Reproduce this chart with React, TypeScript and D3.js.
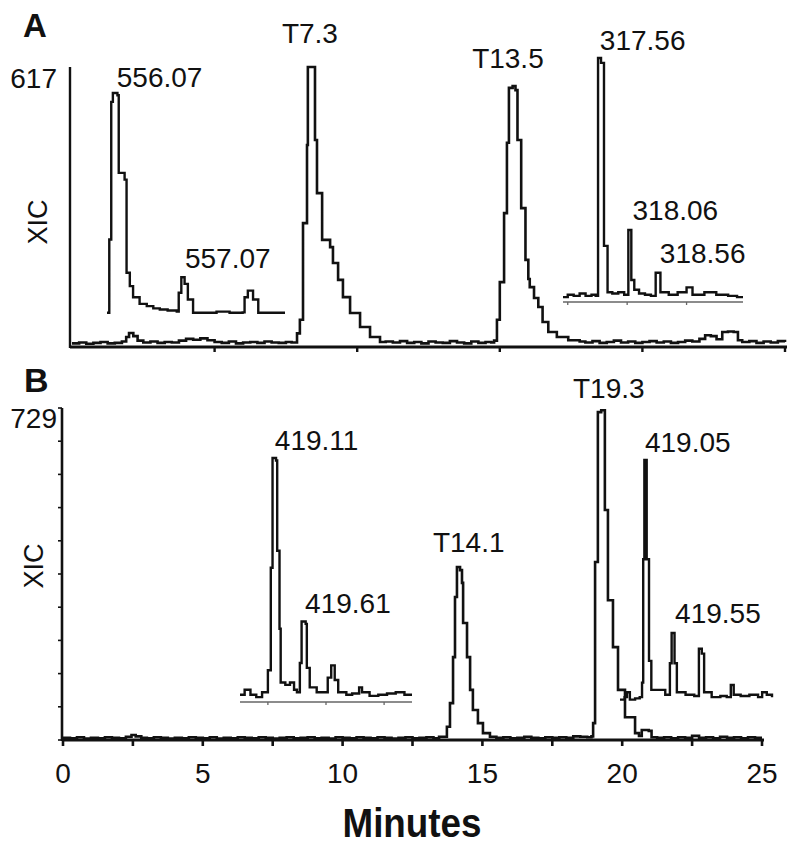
import React, { useEffect } from "react";
import * as d3 from "d3";

const W = 800;
const H = 845;

// ---------- Panel A : main XIC trace (minutes, counts) ----------
const traceA: [number, number][] = [
  [0.0, 8], [0.25, 10], [0.5, 7], [0.75, 9], [1.0, 11], [1.25, 8], [1.5, 9], [1.75, 12],
  [1.9, 22], [2.0, 31], [2.15, 24], [2.3, 14], [2.5, 10], [2.75, 12], [3.0, 9], [3.25, 11],
  [3.5, 10], [3.75, 14], [4.0, 18], [4.25, 16], [4.5, 19], [4.75, 15], [5.0, 11], [5.25, 9],
  [5.5, 12], [5.75, 8], [6.0, 10], [6.25, 11], [6.5, 9], [6.75, 12], [7.0, 10], [7.25, 9],
  [7.5, 11], [7.7, 10], [7.89, 30], [7.99, 60], [8.1, 273], [8.24, 445], [8.27, 617],
  [8.52, 456], [8.59, 339], [8.77, 236], [9.05, 220], [9.15, 185], [9.33, 148], [9.5, 110],
  [9.75, 75], [10.1, 44], [10.45, 22], [10.8, 11], [11.0, 12], [11.25, 10], [11.5, 13],
  [11.75, 9], [12.0, 11], [12.25, 8], [12.5, 12], [12.75, 10], [13.0, 9], [13.25, 13],
  [13.5, 10], [13.75, 8], [14.0, 12], [14.25, 9], [14.5, 11], [14.7, 10], [14.8, 14],
  [14.9, 60], [15.0, 143], [15.15, 295], [15.25, 450], [15.32, 571], [15.45, 575],
  [15.55, 566], [15.62, 456], [15.75, 306], [15.9, 192], [16.0, 150], [16.05, 132],
  [16.2, 108], [16.35, 88], [16.5, 55], [16.7, 33], [17.0, 22], [17.4, 15], [17.8, 12],
  [18.0, 10], [18.25, 13], [18.5, 9], [18.75, 11], [19.0, 14], [19.25, 10], [19.5, 12],
  [19.75, 9], [20.0, 11], [20.25, 13], [20.5, 10], [20.75, 12], [21.0, 9], [21.25, 11],
  [21.5, 14], [21.75, 12], [22.0, 18], [22.2, 26], [22.4, 24], [22.6, 17], [22.8, 33],
  [23.0, 34], [23.2, 33], [23.35, 15], [23.5, 11], [23.75, 13], [24.0, 9], [24.25, 12],
  [24.5, 10], [24.75, 13], [25.0, 11],
];

// ---------- Panel B : main XIC trace (minutes, counts) ----------
const traceB: [number, number][] = [
  [0.0, 5], [0.25, 4], [0.5, 6], [0.75, 3], [1.0, 5], [1.25, 4], [1.5, 6], [1.75, 5],
  [2.0, 4], [2.25, 7], [2.45, 11], [2.6, 8], [2.8, 5], [3.0, 4], [3.25, 6], [3.5, 5],
  [3.75, 3], [4.0, 5], [4.25, 4], [4.5, 6], [4.75, 5], [5.0, 4], [5.25, 6], [5.5, 3],
  [5.75, 5], [6.0, 4], [6.25, 6], [6.5, 5], [6.75, 4], [7.0, 6], [7.25, 5], [7.5, 3],
  [7.75, 5], [8.0, 6], [8.25, 4], [8.5, 5], [8.75, 6], [9.0, 4], [9.25, 5], [9.5, 3],
  [9.75, 6], [10.0, 5], [10.25, 4], [10.5, 6], [10.75, 5], [11.0, 4], [11.25, 6], [11.5, 5],
  [11.75, 3], [12.0, 5], [12.25, 6], [12.5, 4], [12.75, 5], [13.0, 6], [13.25, 4],
  [13.45, 7], [13.59, 7], [13.73, 29], [13.84, 81], [13.95, 182], [14.02, 314], [14.09, 380],
  [14.2, 373], [14.27, 345], [14.31, 257], [14.45, 182], [14.56, 110], [14.66, 66],
  [14.84, 37], [15.02, 15], [15.27, 7], [15.5, 5], [15.75, 6], [16.0, 4], [16.25, 5],
  [16.5, 7], [16.75, 5], [17.0, 4], [17.25, 6], [17.5, 5], [17.75, 6], [18.0, 5], [18.25, 8],
  [18.5, 7], [18.75, 6], [18.9, 8], [18.96, 37], [19.03, 391], [19.13, 720], [19.25, 724],
  [19.38, 505], [19.49, 307], [19.67, 204], [19.85, 110], [20.1, 50], [20.46, 15], [20.6, 9],
  [20.7, 22], [20.95, 20], [21.05, 6], [21.25, 5], [21.5, 6], [21.75, 4], [22.0, 6],
  [22.25, 5], [22.5, 9], [22.75, 5], [23.0, 6], [23.25, 4], [23.5, 7], [23.75, 5], [24.0, 6],
  [24.25, 4], [24.5, 6], [24.75, 5], [25.0, 5],
];

// ---------- Insets : mass spectra (m/z, relative intensity %) ----------
const insetA1: [number, number][] = [
  [555.92, 1], [555.955, 34], [555.985, 96], [556.01, 100], [556.08, 99], [556.1, 64],
  [556.19, 61], [556.22, 19], [556.27, 13], [556.32, 8], [556.42, 5], [556.53, 4],
  [556.63, 3], [556.73, 2.5], [556.85, 2], [556.99, 1.5], [557.02, 10], [557.06, 17],
  [557.11, 14], [557.16, 7], [557.24, 1], [557.4, 1], [557.6, 1.5], [557.8, 1], [558.0, 1.2],
  [558.03, 8], [558.08, 11], [558.16, 7], [558.24, 1], [558.4, 1], [558.65, 1],
];

const insetA2: [number, number][] = [
  [316.92, 2], [317.0, 3], [317.1, 2.5], [317.2, 3.5], [317.3, 2.5], [317.4, 3], [317.47, 2.5],
  [317.51, 100], [317.56, 98], [317.61, 23], [317.67, 4], [317.75, 3.5], [317.85, 4],
  [317.95, 3], [318.02, 29.5], [318.07, 9], [318.12, 5], [318.2, 3.5], [318.3, 3], [318.4, 2.5],
  [318.48, 12], [318.56, 4], [318.7, 3], [318.85, 4], [319.0, 6], [319.1, 3], [319.3, 4],
  [319.5, 3], [319.7, 2.5], [319.85, 2], [319.95, 2],
];

const insetB1: [number, number][] = [
  [418.52, 3], [418.6, 5], [418.7, 3], [418.8, 2], [418.9, 4], [419.0, 13], [419.05, 55],
  [419.08, 100], [419.14, 99], [419.16, 62], [419.2, 30], [419.22, 8], [419.3, 7], [419.38, 8],
  [419.45, 5], [419.5, 4], [419.55, 16], [419.58, 33], [419.65, 32], [419.67, 14], [419.72, 6],
  [419.84, 4], [419.95, 4], [420.03, 10], [420.09, 15], [420.15, 9], [420.21, 4], [420.35, 3],
  [420.45, 3.5], [420.57, 6], [420.62, 4], [420.75, 2.5], [420.9, 3], [421.05, 3.5],
  [421.2, 4], [421.35, 3], [421.48, 3],
];

const insetB2: [number, number][] = [
  [418.62, 1], [418.7, 2], [418.74, 4], [418.79, 1], [418.88, 1.5], [418.96, 2], [419.0, 8],
  [419.02, 59], [419.04, 100], [419.08, 59], [419.12, 17], [419.16, 5], [419.3, 5], [419.4, 3],
  [419.48, 16], [419.51, 28.5], [419.56, 16], [419.6, 4], [419.75, 3], [419.9, 2.5],
  [419.98, 22], [420.03, 20], [420.07, 4], [420.2, 2], [420.35, 2.5], [420.46, 2], [420.53, 7],
  [420.58, 3], [420.7, 2.5], [420.85, 3], [421.0, 2], [421.07, 4], [421.15, 3], [421.24, 2],
];

// ---------- Axis values / ticks ----------
const yMaxA = 617;
const yMaxB = 729;
const xTicksA = [5, 10, 15, 20, 25];
const xTicksB = [0, 2.5, 5, 7.5, 10, 12.5, 15, 17.5, 20, 22.5, 25];
const xTickLabelsB = [0, 5, 10, 15, 20, 25];
const yTicksB = [0, 72.9, 145.8, 218.7, 291.6, 364.5, 437.4, 510.3, 583.2, 656.1, 729];
const insetA2Ticks = [317, 318, 319];
const insetB1Ticks = [419, 420, 421];

// ---------- Annotations (positioned in data units of their own plot) ----------
const labelsMainA = [
  { text: "T7.3", x: 7.36, y: 670 },
  { text: "T13.5", x: 14.03, y: 615 },
];
const labelsMainB = [
  { text: "T14.1", x: 13.23, y: 413 },
  { text: "T19.3", x: 18.24, y: 751 },
];
const labelsA1 = [
  { text: "556.07", x: 556.07, y: 102.7 },
  { text: "557.07", x: 557.116, y: 21.2 },
];
const labelsA2 = [
  { text: "317.56", x: 317.54, y: 103.3 },
  { text: "318.06", x: 318.09, y: 33.6 },
  { text: "318.56", x: 318.55, y: 16.0 },
];
const labelsB1 = [
  { text: "419.11", x: 419.12, y: 103.3 },
  { text: "419.61", x: 419.64, y: 36.5 },
];
const labelsB2 = [
  { text: "419.05", x: 419.05, y: 103.3 },
  { text: "419.55", x: 419.57, y: 32.6 },
];

const FONT = "'Liberation Sans', Arial, Helvetica, sans-serif";
const INK = "#111";

type Sc = d3.ScaleLinear<number, number>;

function Trace({ data, x, y, sw = 2.2 }: { data: [number, number][]; x: Sc; y: Sc; sw?: number }) {
  const line = d3
    .line<[number, number]>()
    .x((d) => x(d[0]))
    .y((d) => y(d[1]))
    .curve(d3.curveStepAfter);
  return <path d={line(data) || ""} fill="none" stroke={INK} strokeWidth={sw} strokeLinejoin="miter" />;
}

function Labels({ items, x, y, size = 28 }: { items: { text: string; x: number; y: number }[]; x: Sc; y: Sc; size?: number }) {
  return (
    <g>
      {items.map((l) => (
        <text key={l.text} x={x(l.x)} y={y(l.y)} fontSize={size} fontFamily={FONT} fill={INK}>
          {l.text}
        </text>
      ))}
    </g>
  );
}

function InsetAxis({ x, y, ticks }: { x: Sc; y: Sc; ticks: number[] }) {
  const [x0, x1] = x.range();
  const y0 = y(0);
  return (
    <g>
      <line x1={x0} x2={x1} y1={y0} y2={y0} stroke="#666" strokeWidth={1.3} />
      {ticks.map((t) => (
        <line key={t} x1={x(t)} x2={x(t)} y1={y0} y2={y0 + 3} stroke="#666" strokeWidth={1.3} />
      ))}
    </g>
  );
}

export default function App() {
  useEffect(() => {
    document.body.style.margin = "0";
  }, []);

  // Panel A scales
  const xA = d3.scaleLinear().domain([0, 25]).range([72, 785]);
  const yA = d3.scaleLinear().domain([0, yMaxA]).range([347, 67]);
  // Panel B scales
  const xB = d3.scaleLinear().domain([0, 25]).range([63, 762]);
  const yB = d3.scaleLinear().domain([0, yMaxB]).range([740, 408]);
  // Insets
  const xA1 = d3.scaleLinear().domain([555.92, 558.65]).range([107, 285]);
  const yA1 = d3.scaleLinear().domain([0, 100]).range([315, 93]);
  const xA2 = d3.scaleLinear().domain([316.92, 319.95]).range([563, 743]);
  const yA2 = d3.scaleLinear().domain([0, 100]).range([302, 58]);
  const xB1 = d3.scaleLinear().domain([418.52, 421.48]).range([240, 412]);
  const yB1 = d3.scaleLinear().domain([0, 100]).range([702, 458]);
  const xB2 = d3.scaleLinear().domain([418.62, 421.24]).range([620, 772]);
  const yB2 = d3.scaleLinear().domain([0, 100]).range([702, 460]);

  const axisA = { left: 70, right: 787, y: yA(0) };
  const axisB = { left: 62, right: 764, y: yB(0) };

  return (
    <svg
      width={W}
      height={H}
      viewBox={`0 0 ${W} ${H}`}
      style={{ position: "absolute", left: 0, top: 0, background: "#fff", display: "block" }}
    >
      <rect x={0} y={0} width={W} height={H} fill="#fff" />

      {/* ================= Panel A ================= */}
      <text x={23} y={37} fontSize={33} fontWeight="bold" fontFamily={FONT} fill={INK}>A</text>
      <text x={57} y={88} fontSize={28} fontFamily={FONT} fill={INK} textAnchor="end">{yMaxA}</text>
      <text
        transform={`translate(47,${(yA(0) + yA(yMaxA)) / 2 + 15}) rotate(-90)`}
        fontSize={27}
        fontFamily={FONT}
        fill={INK}
        textAnchor="middle"
      >
        XIC
      </text>
      {/* axes */}
      <line x1={axisA.left} x2={axisA.left} y1={yA(yMaxA)} y2={axisA.y + 1} stroke={INK} strokeWidth={2.4} />
      <line x1={axisA.left} x2={axisA.right} y1={axisA.y} y2={axisA.y} stroke={INK} strokeWidth={3} />
      {xTicksA.map((t) => (
        <line key={t} x1={xA(t)} x2={xA(t)} y1={axisA.y} y2={axisA.y + 5} stroke={INK} strokeWidth={2.4} />
      ))}
      <Trace data={traceA} x={xA} y={yA} sw={2.6} />
      <Labels items={labelsMainA} x={xA} y={yA} />

      {/* inset A1 */}
      <Trace data={insetA1} x={xA1} y={yA1} sw={2.4} />
      <Labels items={labelsA1} x={xA1} y={yA1} />

      {/* inset A2 */}
      <InsetAxis x={xA2} y={yA2} ticks={insetA2Ticks} />
      <Trace data={insetA2} x={xA2} y={yA2} sw={2.4} />
      <Labels items={labelsA2} x={xA2} y={yA2} />

      {/* ================= Panel B ================= */}
      <text x={24} y={392} fontSize={34} fontWeight="bold" fontFamily={FONT} fill={INK}>B</text>
      <text x={57} y={428} fontSize={28} fontFamily={FONT} fill={INK} textAnchor="end">{yMaxB}</text>
      <text
        transform={`translate(43,566) rotate(-90)`}
        fontSize={27}
        fontFamily={FONT}
        fill={INK}
        textAnchor="middle"
      >
        XIC
      </text>
      <line x1={axisB.left} x2={axisB.left} y1={yB(yMaxB)} y2={axisB.y + 1} stroke={INK} strokeWidth={2.6} />
      {yTicksB.map((v) => (
        <line key={v} x1={axisB.left - 4} x2={axisB.left} y1={yB(v)} y2={yB(v)} stroke={INK} strokeWidth={1.6} />
      ))}
      <line x1={axisB.left} x2={axisB.right} y1={axisB.y} y2={axisB.y} stroke={INK} strokeWidth={3.2} />
      {xTicksB.map((t) => (
        <line key={t} x1={xB(t)} x2={xB(t)} y1={axisB.y} y2={axisB.y + 6} stroke={INK} strokeWidth={2.6} />
      ))}
      {xTickLabelsB.map((t) => (
        <text key={t} x={xB(t)} y={783} fontSize={28} fontFamily={FONT} fill={INK} textAnchor="middle">
          {t}
        </text>
      ))}
      <text
        x={412}
        y={837}
        fontSize={41}
        fontWeight="bold"
        fontFamily={FONT}
        fill={INK}
        textAnchor="middle"
        textLength={139}
        lengthAdjust="spacingAndGlyphs"
      >
        Minutes
      </text>
      <Trace data={traceB} x={xB} y={yB} sw={2.6} />
      <Labels items={labelsMainB} x={xB} y={yB} />

      {/* inset B1 */}
      <InsetAxis x={xB1} y={yB1} ticks={insetB1Ticks} />
      <Trace data={insetB1} x={xB1} y={yB1} sw={2.4} />
      <Labels items={labelsB1} x={xB1} y={yB1} />

      {/* inset B2 */}
      <Trace data={insetB2} x={xB2} y={yB2} sw={2.4} />
      <Labels items={labelsB2} x={xB2} y={yB2} />
    </svg>
  );
}
